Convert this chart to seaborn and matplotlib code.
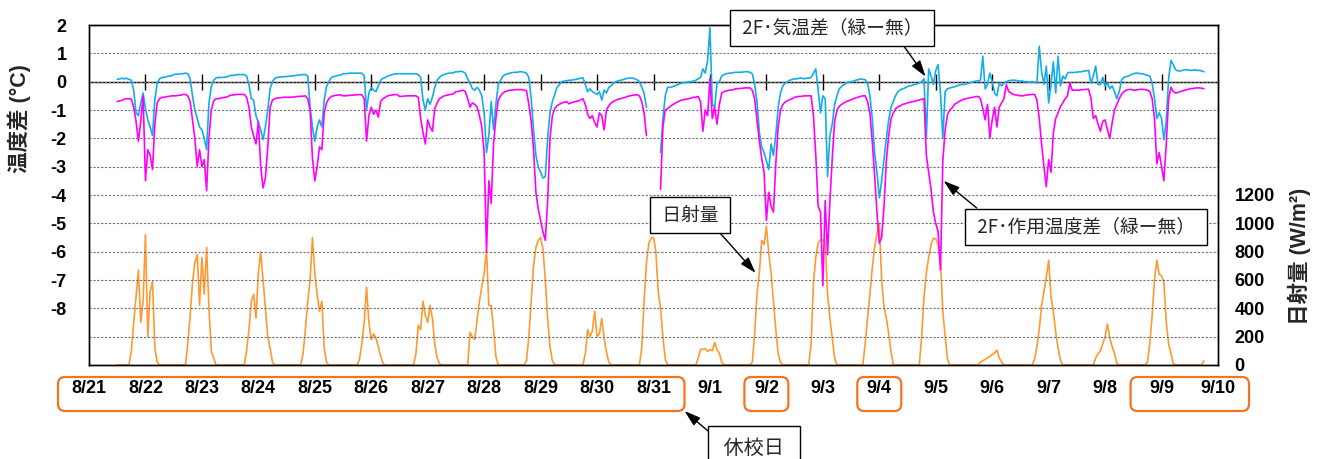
import numpy as np
import pandas as pd
import matplotlib
matplotlib.use("Agg")
import matplotlib.pyplot as plt
import matplotlib.dates as mdates
from matplotlib.patches import FancyBboxPatch
from matplotlib.transforms import IdentityTransform
import seaborn as sns

# ---------------------------------------------------------------- data
YEAR = 2020
FIRST_READING = f"{YEAR}-08-22 00:00"   # hourly readings start here

date_labels = ["8/21", "8/22", "8/23", "8/24", "8/25", "8/26", "8/27", "8/28",
               "8/29", "8/30", "8/31", "9/1", "9/2", "9/3", "9/4", "9/5",
               "9/6", "9/7", "9/8", "9/9", "9/10"]

# school closed days (first, last) -> outlined on the date axis
closed_spans = [("8/21", "8/31"), ("9/2", "9/2"), ("9/4", "9/4"), ("9/9", "9/10")]

nan = np.nan

# 2F air temperature difference, green roof minus bare roof (degC), hourly
air_diff = [
    0.08, 0.10, 0.12, 0.10, 0.12, 0.08, 0.05, -0.30, -1.10, -1.20, -0.75, -0.40, -0.95, -1.35, -1.60, -1.90, -0.64, -0.05, 0.10, 0.15, 0.15, 0.18, 0.20, 0.20,   # 8/22
    0.25, 0.26, 0.27, 0.28, 0.28, 0.30, 0.28, 0.10, -0.50, -1.00, -1.30, -1.60, -1.70, -2.00, -2.40, -0.75, -0.17, 0.05, 0.13, 0.15, 0.15, 0.15, 0.16, 0.18,    # 8/23
    0.22, 0.22, 0.23, 0.25, 0.25, 0.25, 0.25, 0.20, -0.10, -0.60, -0.65, -1.20, -1.45, -1.70, -2.05, -1.60, -1.00, -0.25, 0.00, 0.12, 0.15, 0.16, 0.17, 0.18,   # 8/24
    0.18, 0.19, 0.20, 0.21, 0.22, 0.23, 0.24, 0.25, 0.25, 0.20, -0.90, -1.60, -2.10, -1.60, -1.35, -1.60, -0.65, -0.17, 0.00, 0.15, 0.18, 0.20, 0.22, 0.23,     # 8/25
    0.28, 0.28, 0.29, 0.30, 0.30, 0.30, 0.30, 0.30, 0.30, 0.20, -1.00, -0.40, -0.20, -0.30, -0.35, -0.15, 0.05, 0.12, 0.15, 0.20, 0.22, 0.25, 0.27, 0.28,       # 8/26
    0.28, 0.28, 0.28, 0.28, 0.28, 0.28, 0.28, 0.28, 0.25, 0.15, -0.65, -1.00, -0.60, -0.80, -0.55, -0.20, 0.05, 0.15, 0.22, 0.25, 0.28, 0.30, 0.30, 0.32,      # 8/27
    0.35, 0.35, 0.37, 0.35, 0.30, 0.10, -0.05, -0.25, -0.30, -0.20, -0.30, -0.50, -1.10, -2.50, -1.90, -0.70, -1.70, -0.80, -0.10, 0.05, 0.20, 0.25, 0.28, 0.30, # 8/28
    0.32, 0.33, 0.33, 0.35, 0.35, 0.33, 0.30, 0.15, -0.60, -1.70, -2.60, -3.00, -3.20, -3.40, -3.35, -2.00, -1.10, -0.70, -0.45, -0.20, -0.10, 0.00, 0.02, 0.03, # 8/29
    0.05, 0.05, 0.07, 0.08, 0.10, 0.12, 0.14, -0.10, -0.35, -0.25, -0.35, -0.40, -0.45, -0.35, -0.65, -0.30, -0.40, -0.20, -0.15, -0.05, 0.00, 0.03, 0.05, 0.07, # 8/30
    0.10, 0.12, 0.13, 0.13, 0.10, 0.07, 0.00, -0.20, -0.40, -0.90, nan, nan, nan, nan, nan, -2.50, -1.30, -0.50, -0.20, -0.20, -0.18, -0.15, -0.12, -0.08,       # 8/31
    -0.05, -0.04, -0.02, 0.00, 0.00, 0.02, 0.05, 0.10, 0.15, 0.45, 0.30, 0.75, 1.90, -0.80, -0.90, -0.05, 0.00, 0.20, 0.25, 0.28, 0.30, 0.30, 0.32, 0.33,      # 9/1
    0.33, 0.33, 0.34, 0.35, 0.35, 0.33, 0.28, -0.10, -0.70, -1.80, -2.30, -2.50, -2.80, -3.10, -2.20, -2.60, -1.90, -0.90, -0.40, -0.15, -0.05, 0.00, 0.05, 0.08, # 9/2
    0.10, 0.10, 0.12, 0.13, 0.10, 0.12, 0.13, 0.15, 0.30, 0.45, -0.30, -1.10, -0.50, -0.60, -3.35, -1.90, -1.50, -0.80, -0.50, -0.25, -0.17, -0.10, -0.05, -0.02, # 9/3
    0.00, 0.02, 0.05, 0.07, 0.10, 0.08, 0.07, -0.05, -0.50, -1.30, -2.50, -3.20, -4.10, -3.50, -2.75, -2.00, -1.35, -0.90, -0.68, -0.48, -0.35, -0.28, -0.25, -0.22, # 9/4
    -0.17, -0.15, -0.13, -0.10, -0.08, -0.05, 0.00, 0.10, -2.00, 0.45, 0.20, -0.10, 0.40, 0.60, -0.40, -2.00, -0.35, -0.25, -0.22, -0.20, -0.18, -0.15, -0.12, -0.10, # 9/5
    -0.10, -0.08, -0.05, -0.03, 0.00, 0.02, 0.03, 0.05, 0.90, -0.25, -0.10, 0.30, 0.00, -0.40, -0.50, -0.05, -0.15, -0.05, 0.00, 0.03, 0.05, 0.05, 0.05, 0.03,   # 9/6
    0.02, 0.02, 0.00, 0.00, -0.02, 0.00, -0.02, -0.05, 1.25, 0.35, -0.10, 0.55, -0.75, -0.10, 0.70, -0.40, 0.90, -0.15, 0.20, 0.10, 0.30, 0.33, 0.32, 0.33,      # 9/7
    0.33, 0.35, 0.35, 0.38, 0.38, 0.40, -0.05, 0.20, 0.55, -0.10, -0.10, 0.15, -0.15, -0.05, -0.25, -0.15, -0.35, -0.60, -0.35, 0.05, 0.15, 0.18, 0.20, 0.25,    # 9/8
    0.28, 0.30, 0.30, 0.28, 0.28, 0.25, 0.22, 0.20, -0.05, -0.60, -1.30, -1.10, -1.30, -2.05, -1.40, 0.10, 0.75, 0.60, 0.42, 0.38, 0.38, 0.40, 0.42, 0.42,      # 9/9
    0.40, 0.40, 0.42, 0.40, 0.40, 0.38, 0.35,                                                                                                                    # 9/10
]

# 2F operative temperature difference, green roof minus bare roof (degC), hourly
op_diff = [
    -0.70, -0.68, -0.66, -0.62, -0.60, -0.60, -0.62, -0.90, -1.40, -2.10, -1.40, -0.50, -3.50, -2.40, -2.60, -3.10, -1.50, -0.75, -0.60, -0.55, -0.55, -0.53, -0.52, -0.50,  # 8/22
    -0.50, -0.50, -0.48, -0.48, -0.45, -0.45, -0.50, -0.70, -1.35, -2.00, -3.00, -2.40, -3.00, -2.75, -3.85, -2.00, -1.00, -0.68, -0.60, -0.60, -0.58, -0.56, -0.55, -0.53,  # 8/23
    -0.48, -0.47, -0.46, -0.45, -0.45, -0.45, -0.45, -0.55, -0.90, -1.60, -1.90, -2.20, -1.40, -3.00, -3.75, -3.40, -2.30, -0.90, -0.65, -0.60, -0.58, -0.57, -0.56, -0.55,  # 8/24
    -0.55, -0.55, -0.55, -0.54, -0.53, -0.52, -0.52, -0.51, -0.50, -0.60, -1.00, -2.70, -3.50, -3.00, -2.30, -2.40, -1.10, -0.75, -0.60, -0.52, -0.50, -0.48, -0.47, -0.47,  # 8/25
    -0.50, -0.50, -0.49, -0.48, -0.48, -0.47, -0.46, -0.46, -0.46, -0.60, -2.10, -1.20, -0.90, -1.15, -1.00, -1.25, -0.70, -0.60, -0.55, -0.50, -0.48, -0.47, -0.46, -0.45,  # 8/26
    -0.52, -0.52, -0.51, -0.50, -0.50, -0.50, -0.50, -0.50, -0.55, -1.30, -1.80, -2.20, -1.35, -1.60, -1.75, -0.95, -0.75, -0.60, -0.55, -0.50, -0.48, -0.46, -0.45, -0.42,  # 8/27
    -0.35, -0.35, -0.32, -0.30, -0.35, -0.60, -0.90, -0.75, -0.80, -0.90, -1.20, -1.60, -2.50, -6.00, -3.50, -4.30, -2.20, -1.30, -0.65, -0.50, -0.40, -0.35, -0.32, -0.30,  # 8/28
    -0.30, -0.28, -0.28, -0.28, -0.28, -0.30, -0.32, -0.80, -1.40, -2.40, -3.90, -4.50, -4.90, -5.30, -5.60, -4.20, -2.00, -1.20, -0.95, -0.85, -0.80, -0.75, -0.73, -0.70,  # 8/29
    -0.78, -0.75, -0.72, -0.70, -0.68, -0.65, -0.60, -0.80, -1.15, -1.30, -1.20, -1.45, -1.60, -1.10, -1.20, -1.70, -1.00, -0.85, -0.75, -0.70, -0.65, -0.62, -0.60, -0.58,  # 8/30
    -0.55, -0.52, -0.50, -0.48, -0.47, -0.46, -0.50, -0.70, -1.10, -1.90, nan, nan, nan, nan, nan, -3.80, -1.60, -1.00, -0.95, -0.88, -0.82, -0.77, -0.72, -0.68,              # 8/31
    -0.65, -0.63, -0.62, -0.60, -0.58, -0.55, -0.55, -0.52, -0.70, -1.75, -1.00, -1.20, 0.10, -1.30, -0.90, -1.50, -0.80, -0.40, -0.35, -0.33, -0.30, -0.30, -0.28, -0.25,   # 9/1
    -0.25, -0.24, -0.23, -0.22, -0.22, -0.22, -0.30, -0.60, -1.35, -2.10, -2.70, -3.20, -4.90, -3.90, -4.40, -4.60, -2.90, -1.60, -1.00, -0.80, -0.72, -0.67, -0.63, -0.60,  # 9/2
    -0.55, -0.53, -0.52, -0.52, -0.50, -0.50, -0.50, -0.50, -1.20, -2.60, -4.40, -4.60, -7.20, -4.20, -6.10, -4.20, -2.70, -1.40, -1.00, -0.87, -0.80, -0.75, -0.70, -0.67,  # 9/3
    -0.64, -0.60, -0.57, -0.55, -0.52, -0.50, -0.50, -0.70, -1.10, -2.10, -3.30, -4.60, -5.70, -5.50, -4.40, -2.80, -1.90, -1.30, -1.10, -0.95, -0.88, -0.85, -0.80, -0.78,  # 9/4
    -0.75, -0.73, -0.71, -0.69, -0.67, -0.65, -0.62, -0.60, -2.60, -3.20, -3.80, -4.60, -5.00, -5.30, -6.65, -2.80, -1.70, -1.15, -1.00, -0.92, -0.80, -0.75, -0.70, -0.65,  # 9/5
    -0.62, -0.60, -0.58, -0.56, -0.55, -0.53, -0.52, -0.60, -0.95, -1.35, -0.80, -2.00, -1.35, -0.90, -1.60, -0.90, -0.75, -0.60, -0.10, -0.35, -0.40, -0.45, -0.47, -0.48,  # 9/6
    -0.50, -0.50, -0.48, -0.47, -0.46, -0.45, -0.45, -0.64, -1.30, -2.20, -3.00, -3.70, -2.75, -3.20, -1.80, -1.30, -1.10, -0.88, -0.75, -0.60, -0.50, -0.05, -0.30, -0.30,  # 9/7
    -0.30, -0.30, -0.28, -0.28, -0.27, -0.27, -0.60, -1.30, -1.20, -1.50, -1.75, -1.40, -1.35, -1.70, -2.00, -1.45, -1.00, -0.80, -0.60, -0.45, -0.35, -0.30, -0.28, -0.27,  # 9/8
    -0.30, -0.30, -0.28, -0.27, -0.27, -0.28, -0.30, -0.35, -0.60, -1.30, -2.90, -2.50, -3.00, -3.50, -2.20, -0.60, -0.20, -0.35, -0.40, -0.38, -0.35, -0.32, -0.30, -0.28,  # 9/9
    -0.25, -0.25, -0.23, -0.22, -0.22, -0.23, -0.25,                                                                                                                          # 9/10
]

# global solar radiation (W/m2), hourly
solar = [
    0, 0, 0, 0, 0, 0, 100, 300, 480, 670, 300, 450, 920, 200, 520, 590, 120, 20, 0, 0, 0, 0, 0, 0,   # 8/22
    0, 0, 0, 0, 0, 0, 150, 350, 580, 720, 780, 420, 760, 500, 830, 400, 100, 50, 0, 0, 0, 0, 0, 0,   # 8/23
    0, 0, 0, 0, 0, 0, 0, 100, 250, 450, 500, 330, 650, 800, 600, 400, 200, 120, 20, 0, 0, 0, 0, 0,   # 8/24
    0, 0, 0, 0, 0, 0, 0, 80, 250, 450, 600, 900, 650, 500, 380, 450, 120, 20, 0, 0, 0, 0, 0, 0,      # 8/25
    0, 0, 0, 0, 0, 0, 0, 40, 150, 300, 550, 300, 180, 220, 190, 130, 60, 10, 0, 0, 0, 0, 0, 0,       # 8/26
    0, 0, 0, 0, 0, 0, 0, 80, 280, 250, 450, 350, 300, 420, 330, 150, 50, 10, 0, 0, 0, 0, 0, 0,       # 8/27
    0, 0, 0, 0, 0, 0, 230, 200, 180, 320, 450, 550, 650, 810, 420, 420, 250, 60, 0, 0, 0, 0, 0, 0,   # 8/28
    0, 0, 0, 0, 0, 0, 30, 200, 450, 700, 830, 880, 900, 820, 600, 330, 130, 30, 0, 0, 0, 0, 0, 0,    # 8/29
    0, 0, 0, 0, 0, 0, 0, 80, 250, 200, 240, 380, 200, 220, 330, 190, 90, 20, 0, 0, 0, 0, 0, 0,       # 8/30
    0, 0, 0, 0, 0, 0, 0, 120, 450, 720, 860, 895, 900, 800, 520, 400, 200, 40, 0, 0, 0, 0, 0, 0,     # 8/31
    0, 0, 0, 0, 0, 0, 0, 50, 110, 110, 115, 95, 110, 100, 160, 105, 85, 20, 0, 0, 0, 0, 0, 0,        # 9/1
    0, 0, 0, 0, 0, 0, 20, 220, 500, 650, 880, 850, 980, 790, 650, 450, 250, 80, 20, 0, 0, 0, 0, 0,   # 9/2
    0, 0, 0, 0, 0, 0, 0, 150, 580, 760, 860, 885, 880, 870, 500, 330, 190, 50, 0, 0, 0, 0, 0, 0,     # 9/3
    0, 0, 0, 0, 0, 0, 150, 330, 500, 680, 830, 930, 1000, 600, 410, 330, 220, 90, 0, 0, 0, 0, 0, 0,  # 9/4
    0, 0, 0, 0, 0, 0, 200, 480, 650, 760, 850, 895, 890, 850, 740, 380, 200, 40, 0, 0, 0, 0, 0, 0,   # 9/5
    0, 0, 0, 0, 0, 0, 0, 20, 30, 40, 50, 60, 75, 85, 105, 50, 20, 0, 0, 0, 0, 0, 0, 0,               # 9/6
    0, 0, 0, 0, 0, 0, 40, 130, 250, 420, 520, 620, 740, 480, 380, 230, 120, 35, 0, 0, 0, 0, 0, 0,    # 9/7
    0, 0, 0, 0, 0, 0, 0, 0, 50, 80, 100, 150, 200, 290, 190, 130, 80, 10, 0, 0, 0, 0, 0, 0,          # 9/8
    0, 0, 0, 0, 0, 0, 20, 150, 350, 600, 740, 640, 630, 580, 300, 150, 80, 10, 0, 0, 0, 0, 0, 0,     # 9/9
    0, 0, 0, 0, 0, 0, 30,                                                                            # 9/10
]

# ---------------------------------------------------------------- style
BLUE = "#12ADEA"
MAGENTA = "#FF00FF"
ORANGE = "#FF9933"
BOX_ORANGE = "#F47320"
W, H = 1320, 459

sns.set_theme(style="white")
plt.rcParams["font.family"] = ["Liberation Sans", "Noto Sans CJK JP", "DejaVu Sans"]
plt.rcParams["axes.unicode_minus"] = False
JP = ["Noto Sans CJK JP", "DejaVu Sans"]

times = pd.date_range(FIRST_READING, periods=len(air_diff), freq="h")
df = pd.DataFrame({"time": times, "air": air_diff, "op": op_diff, "solar": solar})


def runs(col):
    """Rows of one series split into unbroken runs (missing hours break the line)."""
    part = df[["time", col]].copy()
    part["run"] = part[col].isna().cumsum()
    return part.dropna()


def noon(label):
    return pd.Timestamp(f"{YEAR}/{label}") + pd.Timedelta(hours=12)


tick_dates = [noon(d) for d in date_labels]
tick_nums = mdates.date2num(tick_dates)

fig = plt.figure(figsize=(W / 100, H / 100), dpi=100)
ax = fig.add_axes([89 / W, 94 / H, 1129 / W, 340 / H])
ax2 = ax.twinx()
ax.set_zorder(ax2.get_zorder() + 1)
ax.patch.set_visible(False)

# solar radiation on the right-hand scale, underneath the temperature lines
sns.lineplot(data=df, x="time", y="solar", color=ORANGE, lw=1.2, ax=ax2, legend=False)
for col, colr in (("air", BLUE), ("op", MAGENTA)):
    sns.lineplot(data=runs(col), x="time", y=col, units="run", estimator=None,
                 color=colr, lw=1.2, ax=ax, legend=False)

ax.set_xlim(tick_nums[0], tick_nums[-1])
ax.set_ylim(-10, 2)
ax2.set_ylim(0, 2400)

# left axis: temperature difference
left_ticks = list(range(-10, 3))
ax.set_yticks(left_ticks)
ax.set_yticklabels([str(v) if v >= -8 else "" for v in left_ticks],
                   fontsize=13, fontweight="bold")
ax.tick_params(axis="y", length=0, pad=16, colors="black")
ax.grid(axis="y", color="#707070", linestyle=(0, (2, 1.5)), linewidth=0.8)
ax.grid(axis="x", visible=False)

# right axis: solar radiation
right_ticks = list(range(0, 1201, 200))
ax2.set_yticks(right_ticks)
ax2.set_yticklabels([str(v) for v in right_ticks], fontsize=13, fontweight="bold")
ax2.tick_params(axis="y", length=0, pad=12, colors="black")
ax2.grid(False)

# dates along the bottom
ax.set_xticks(tick_nums)
ax.set_xticklabels(date_labels, fontsize=13, fontweight="bold")
ax.tick_params(axis="x", length=0, pad=11, colors="black")

for a in (ax, ax2):
    a.set_xlabel("")
    a.set_ylabel("")
    for s in a.spines.values():
        s.set_color("black")
        s.set_linewidth(1.0)

# zero line with day ticks
zero = ax.secondary_xaxis(10 / 12)
zero.set_xticks(tick_nums[1:-1])
zero.tick_params(axis="x", direction="inout", length=11, width=1, color="black",
                 labeltop=False, labelbottom=False)
for s in zero.spines.values():
    s.set_color("black")
    s.set_linewidth(1.0)

# axis titles
fig.text(19 / W, 1 - 119 / H, "温度差 (°C)", rotation=90, ha="center", va="center",
         fontsize=15.5, fontweight="bold")
fig.text(1299 / W, 1 - 256 / H, "日射量 (W/m²)", rotation=90, ha="center", va="center",
         fontsize=15.5, fontweight="bold")

# outlines around the closed days
axis_bottom = ax.transAxes.transform((0, 0))[1]
box_top, box_bottom = axis_bottom - 12, axis_bottom - 46
closed_corner = None
for first, last in closed_spans:
    pad = 22 if first == last else 31
    x0 = ax.transData.transform((mdates.date2num(noon(first)), 0))[0] - pad
    x1 = ax.transData.transform((mdates.date2num(noon(last)), 0))[0] + pad
    fig.add_artist(FancyBboxPatch((x0, box_bottom), x1 - x0, box_top - box_bottom,
                                  boxstyle="round,pad=0,rounding_size=7",
                                  transform=IdentityTransform(), fill=False,
                                  ec=BOX_ORANGE, lw=1.6, clip_on=False))
    if closed_corner is None:
        closed_corner = (x1, box_bottom)

# callouts
box = dict(boxstyle="square,pad=0.4", fc="white", ec="black", lw=1)


def arrow(relpos):
    return dict(arrowstyle="-|>,head_length=0.7,head_width=0.22", color="black", lw=1,
                shrinkA=0, shrinkB=0, relpos=relpos, mutation_scale=14)


ax.annotate(" 2F･気温差（緑ー無） ",
            xy=(mdates.date2num(pd.Timestamp(f"{YEAR}-09-05 07:40")), 0.18),
            xytext=(832, H - 27.5), textcoords="figure pixels",
            ha="center", va="center", fontsize=13.5, family=JP,
            bbox=box, arrowprops=arrow((0.85, 0.0)), zorder=10, annotation_clip=False)
ax.annotate(" 2F･作用温度差（緑ー無） ",
            xy=(mdates.date2num(pd.Timestamp(f"{YEAR}-09-05 15:20")), -3.5),
            xytext=(1086, H - 226.5), textcoords="figure pixels",
            ha="center", va="center", fontsize=13.5, family=JP,
            bbox=box, arrowprops=arrow((0.06, 1.0)), zorder=10, annotation_clip=False)
ax.annotate(" 日射量 ",
            xy=(mdates.date2num(pd.Timestamp(f"{YEAR}-09-02 07:25")), 650),
            xycoords=ax2.transData,
            xytext=(690, H - 215), textcoords="figure pixels",
            ha="center", va="center", fontsize=13.5, family=JP,
            bbox=box, arrowprops=arrow((0.86, 0.0)), zorder=10, annotation_clip=False)
ax.annotate(" 休校日 ",
            xy=closed_corner, xycoords="figure pixels",
            xytext=(754, H - 448), textcoords="figure pixels",
            ha="center", va="center", fontsize=14.5, family=JP,
            bbox=dict(boxstyle="square,pad=0.55", fc="white", ec="black", lw=1),
            arrowprops=arrow((0.0, 0.85)), zorder=10, annotation_clip=False)

fig.savefig("out.png", dpi=100, facecolor="white")
